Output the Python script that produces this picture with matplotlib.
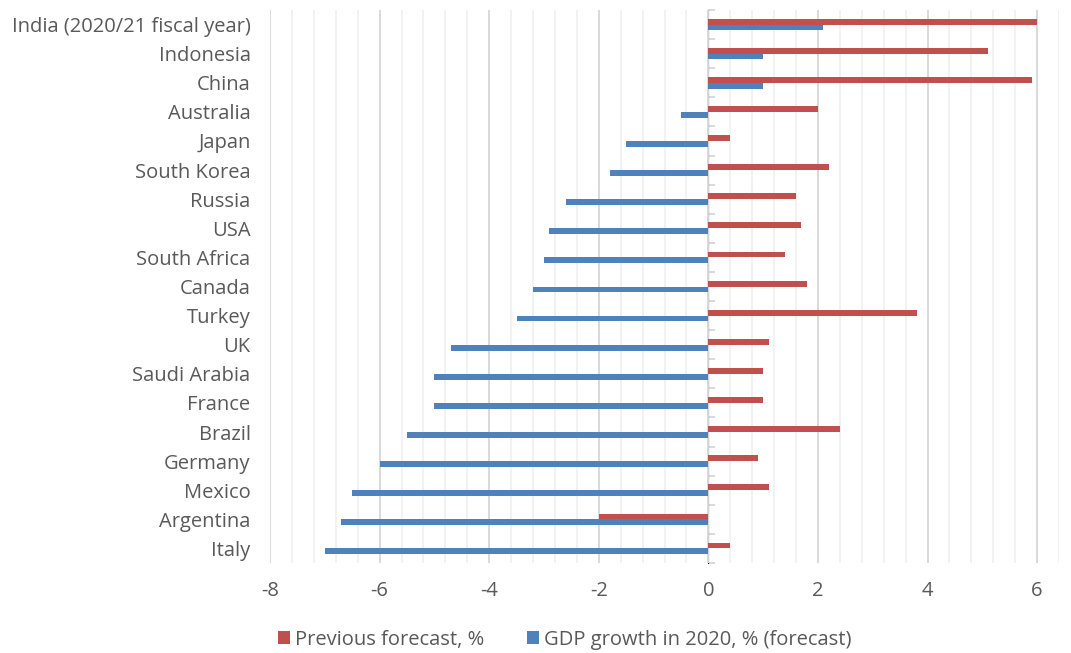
import matplotlib.pyplot as plt
from matplotlib.ticker import MultipleLocator

# data, top to bottom as in the chart
countries = ["India (2020/21 fiscal year)", "Indonesia", "China", "Australia", "Japan",
             "South Korea", "Russia", "USA", "South Africa", "Canada", "Turkey", "UK",
             "Saudi Arabia", "France", "Brazil", "Germany", "Mexico", "Argentina", "Italy"]
previous_forecast = [6.0, 5.1, 5.9, 2.0, 0.4, 2.2, 1.6, 1.7, 1.4, 1.8, 3.8, 1.1,
                     1.0, 1.0, 2.4, 0.9, 1.1, -2.0, 0.4]
gdp_2020 = [2.1, 1.0, 1.0, -0.5, -1.5, -1.8, -2.6, -2.9, -3.0, -3.2, -3.5, -4.7,
            -5.0, -5.0, -5.5, -6.0, -6.5, -6.7, -7.0]

red = "#C0504D"
blue = "#4F81BD"
text_gray = "#595959"
fs = 14.5

plt.rcParams['font.family'] = ['Open Sans', 'DejaVu Sans']

fig = plt.figure(figsize=(10.71, 6.53), dpi=100)
ax = fig.add_axes([0.2521, 0.1378, 0.7367, 0.8469])

n = len(countries)
pos = list(range(n))
h = 0.2
ax.barh([p - h / 2 for p in pos], previous_forecast, height=h, color=red,
        label="Previous forecast, %", zorder=3)
ax.barh([p + h / 2 for p in pos], gdp_2020, height=h, color=blue,
        label="GDP growth in 2020, % (forecast)", zorder=3)

xmin, xmax = -8, 6.4
ax.set_xlim(xmin, xmax)
ax.set_ylim(n - 0.5, -0.5)

ax.xaxis.set_major_locator(MultipleLocator(2))
ax.xaxis.set_minor_locator(MultipleLocator(0.4))
ax.grid(axis='x', which='major', color='#d9d9d9', linewidth=1.4, zorder=0)
ax.grid(axis='x', which='minor', color='#f2f2f2', linewidth=1.4, zorder=0)
ax.set_xticks([-8, -6, -4, -2, 0, 2, 4, 6])
ax.set_xticklabels(["-8", "-6", "-4", "-2", "0", "2", "4", "6"])
ax.tick_params(axis='x', which='both', length=0, pad=13, labelsize=fs, labelcolor=text_gray)

ax.set_yticks(pos)
ax.set_yticklabels(countries)
ax.tick_params(axis='y', length=0, pad=14, labelsize=fs, labelcolor=text_gray)

for s in ax.spines.values():
    s.set_visible(False)

# vertical category axis drawn at x = 0 with ticks between categories
sec = ax.secondary_yaxis((0 - xmin) / (xmax - xmin))
sec.set_yticks([p - 0.5 for p in pos] + [n - 0.5])
sec.set_yticklabels([])
sec.tick_params(axis='y', length=5, width=1.4, color='#d9d9d9', direction='out')
sec.spines['left'].set_color('#d9d9d9')
sec.spines['left'].set_linewidth(1.4)

fig.legend(*ax.get_legend_handles_labels(), loc='center', bbox_to_anchor=(0.5275, 0.02),
           ncol=2, frameon=False, fontsize=fs, labelcolor=text_gray,
           handlelength=0.6, handleheight=0.6, handletextpad=0.25, columnspacing=2.1)

fig.savefig("out.png", dpi=100)
